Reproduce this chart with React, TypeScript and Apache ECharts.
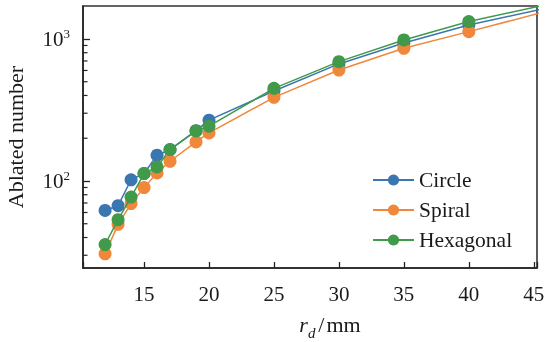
import React, { useEffect, useRef } from "react";
import * as echarts from "echarts";

const X_VALUES = [12, 13, 14, 15, 16, 17, 19, 20, 25, 30, 35, 40, 50];
const CIRCLE = [62, 67, 102, 113, 152, 166, 226, 268, 430, 667, 937, 1255, 1980];
const SPIRAL = [30.7, 49.5, 69.3, 89.8, 114, 137.7, 188.5, 218, 388, 604, 860, 1126, 1950];
const HEXAGONAL = [35.7, 53.4, 77, 112.8, 125.5, 166.5, 225, 243, 449, 692, 984, 1325, 2100];
const SERIES_NAMES = ["Circle", "Spiral", "Hexagonal"];
const COLORS = ["#3a76b0", "#f0873a", "#41994a"];
const X_MIN = 10.3;
const X_MAX = 45.25;
const Y_MIN = 24.4;
const Y_MAX = 1706;
const MINOR_TICKS = [30, 40, 50, 60, 70, 80, 90, 200, 300, 400, 500, 600, 700, 800, 900];

const FONT = "Liberation Serif";
const INK = "#1a1a1a";

export default function App() {
  const ref = useRef<HTMLDivElement>(null);
  useEffect(() => {
    if (!ref.current) return;
    document.body.style.margin = "0";
    const chart = echarts.init(ref.current, undefined, { renderer: "svg" });
    const seriesData = [CIRCLE, SPIRAL, HEXAGONAL];
    const lineSeries = SERIES_NAMES.map((name, i) => ({
      name,
      type: "line",
      data: X_VALUES.map((x, j) => [x, seriesData[i][j]]),
      symbol: "circle",
      symbolSize: 13,
      color: COLORS[i],
      lineStyle: { width: 1.5, color: COLORS[i] },
      itemStyle: { color: COLORS[i] },
      clip: true,
      z: 2 + i,
    }));
    chart.setOption({
      animation: false,
      textStyle: { fontFamily: FONT },
      grid: {
        left: 83,
        right: 8,
        top: 6,
        bottom: 74,
        containLabel: false,
        outerBoundsMode: "none",
        show: true,
        borderColor: "#333",
        borderWidth: 1.6,
        backgroundColor: "transparent",
      },
      legend: {
        data: SERIES_NAMES,
        left: 372,
        top: 169,
        padding: 0,
        orient: "vertical",
        itemWidth: 41,
        itemHeight: 14,
        itemGap: 8,
        textStyle: { fontFamily: FONT, fontSize: 21.5, color: INK },
      },
      xAxis: {
        type: "value",
        min: X_MIN,
        max: X_MAX,
        splitNumber: 7,
        splitLine: { show: false },
        axisLine: { lineStyle: { color: "#222", width: 1.5 } },
        axisTick: { inside: true, length: 6, lineStyle: { color: "#222", width: 1.3 } },
        axisLabel: {
          margin: 15,
          fontFamily: FONT,
          fontSize: 21,
          color: INK,
          formatter: (v: number) => (Math.abs(v % 5) < 1e-6 ? String(v) : ""),
        },
        name: "{i|r}{sub|d}{sl|/}{n|mm}",
        nameLocation: "middle",
        nameGap: 40,
        nameTextStyle: {
          fontFamily: FONT,
          fontSize: 22,
          color: INK,
          padding: [0, 0, 0, 40],
          rich: {
            i: { fontFamily: FONT, fontSize: 22, fontStyle: "italic", color: INK },
            sub: { fontFamily: FONT, fontSize: 15, fontStyle: "italic", color: INK, padding: [17, 2, 0, 0] },
            sl: { fontFamily: FONT, fontSize: 22, color: INK, padding: [0, 2, 0, 1] },
            n: { fontFamily: FONT, fontSize: 22, color: INK },
          },
        },
      },
      yAxis: {
        type: "log",
        logBase: 10,
        min: Y_MIN,
        max: Y_MAX,
        splitLine: { show: false },
        axisLine: { lineStyle: { color: "#222", width: 1.5 } },
        axisTick: { inside: true, length: 7, lineStyle: { color: "#222", width: 1.3 } },
        axisLabel: {
          margin: 13,
          showMinLabel: false,
          showMaxLabel: false,
          fontFamily: FONT,
          color: INK,
          formatter: (v: number) => {
            const e = Math.log10(v);
            const r = Math.round(e);
            return Math.abs(e - r) < 1e-6 ? `{b|10}{s|${r}}` : "";
          },
          rich: {
            b: { fontFamily: FONT, fontSize: 21, color: INK },
            s: { fontFamily: FONT, fontSize: 13, color: INK, padding: [0, 0, 10, 0] },
          },
        },
        name: "Ablated number",
        nameLocation: "middle",
        nameGap: 57,
        nameTextStyle: { fontFamily: FONT, fontSize: 22, color: INK },
      },
      series: [
        ...lineSeries,
        {
          name: "minorTicks",
          type: "custom",
          silent: true,
          z: 10,
          data: MINOR_TICKS.map((v) => [X_MIN, v]),
          renderItem: (_params: any, api: any) => {
            const p = api.coord([X_MIN, api.value(1)]);
            return {
              type: "line",
              shape: { x1: p[0], y1: p[1], x2: p[0] + 4.5, y2: p[1] },
              style: { stroke: "#222", lineWidth: 1.2 },
            };
          },
        },
      ],
    });
    return () => chart.dispose();
  }, []);
  return <div ref={ref} style={{ position: "fixed", left: 0, top: 0, width: 545, height: 342 }} />;
}
